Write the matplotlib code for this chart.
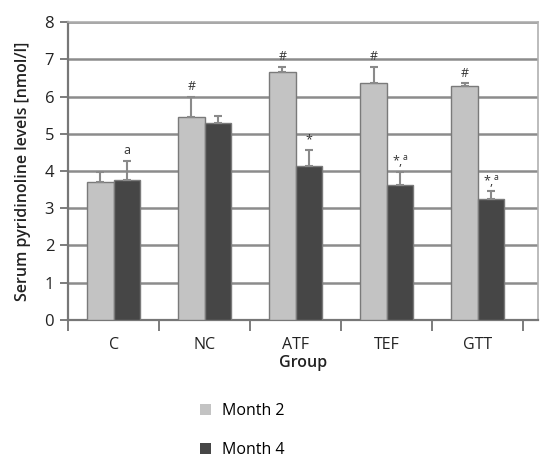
import matplotlib.pyplot as plt
from matplotlib.patches import Patch
import numpy as np

plt.rcParams['font.family'] = ['Open Sans', 'DejaVu Sans']

groups = ['C', 'NC', 'ATF', 'TEF', 'GTT']
month2 = [3.71, 5.46, 6.67, 6.35, 6.29]
month2_err = [0.27, 0.52, 0.13, 0.45, 0.06]
month4 = [3.75, 5.29, 4.13, 3.61, 3.25]
month4_err = [0.53, 0.19, 0.43, 0.37, 0.20]
marks2 = ['', '#', '#', '#', '#']
marks4 = ['a', '', '*', '*,a', '*,a']

fig = plt.figure(figsize=(5.4, 4.59), dpi=100)
ax = fig.add_axes([0.126, 0.303, 0.87, 0.649])

x = np.arange(len(groups))
w = 0.29
light = '#c3c3c3'
dark = '#464646'
edge = '#7a7a7a'

ax.bar(x - w / 2, month2, w, color=light, edgecolor=edge, linewidth=1.0,
       yerr=[np.zeros(5), month2_err], ecolor='#8a8a8a', capsize=3,
       error_kw={'elinewidth': 1.5, 'capthick': 1.5}, zorder=3)
ax.bar(x + w / 2, month4, w, color=dark, edgecolor=edge, linewidth=1.0,
       yerr=[np.zeros(5), month4_err], ecolor='#8a8a8a', capsize=3,
       error_kw={'elinewidth': 1.5, 'capthick': 1.5}, zorder=3)


def mark_text(s):
    # after "*," the "a" is raised as a superscript
    if s.endswith(',a'):
        return s[:-1] + r'$^{\mathregular{a}}$'
    return s


# significance marks above the error bars
for i in range(len(groups)):
    if marks2[i]:
        ax.text(x[i] - w / 2, month2[i] + month2_err[i] + 0.28, marks2[i],
                ha='center', va='center', fontsize=9, color='#333333')
    if marks4[i]:
        ax.text(x[i] + w / 2, month4[i] + month4_err[i] + 0.28, mark_text(marks4[i]),
                ha='center', va='center', fontsize=9, color='#333333')

ax.set_ylim(0, 8)
ax.set_xlim(-0.5, 4.66)
ax.set_yticks(range(0, 9))
ax.set_xticks(x)
ax.set_xticklabels(groups)
ax.set_xticks(np.arange(-0.5, 5, 1), minor=True)
ax.tick_params(axis='x', which='major', length=0, pad=12, labelsize=11.5, labelcolor='#222222')
ax.tick_params(axis='x', which='minor', length=8, width=1.2, color='#666666')
ax.tick_params(axis='y', length=6, width=1.2, color='#666666', labelsize=12,
               labelcolor='#222222', pad=4)

ax.yaxis.grid(True, color='#8c8c8c', linewidth=1.8, zorder=0)
ax.set_axisbelow(True)
for side in ['top', 'right']:
    ax.spines[side].set_color('#b0b0b0')
    ax.spines[side].set_linewidth(1.2)
for side in ['left', 'bottom']:
    ax.spines[side].set_color('#777777')
    ax.spines[side].set_linewidth(1.6)

ax.set_ylabel('Serum pyridinoline levels [nmol/l]', fontsize=11.5, fontweight='semibold',
              color='#222222', labelpad=10)
ax.set_xlabel('Group', fontsize=11.5, fontweight='semibold', color='#222222', labelpad=2)

handles = [Patch(facecolor=light, edgecolor='none', label='Month 2'),
           Patch(facecolor=dark, edgecolor='none', label='Month 4')]
fig.legend(handles=handles, loc='upper left', bbox_to_anchor=(200 / 540, 1 - 403 / 459),
           frameon=False, handlelength=0.7, handleheight=0.7, handletextpad=0.7,
           labelspacing=1.45, borderpad=0, borderaxespad=0, fontsize=11.5)

fig.savefig('out.png', dpi=100)
